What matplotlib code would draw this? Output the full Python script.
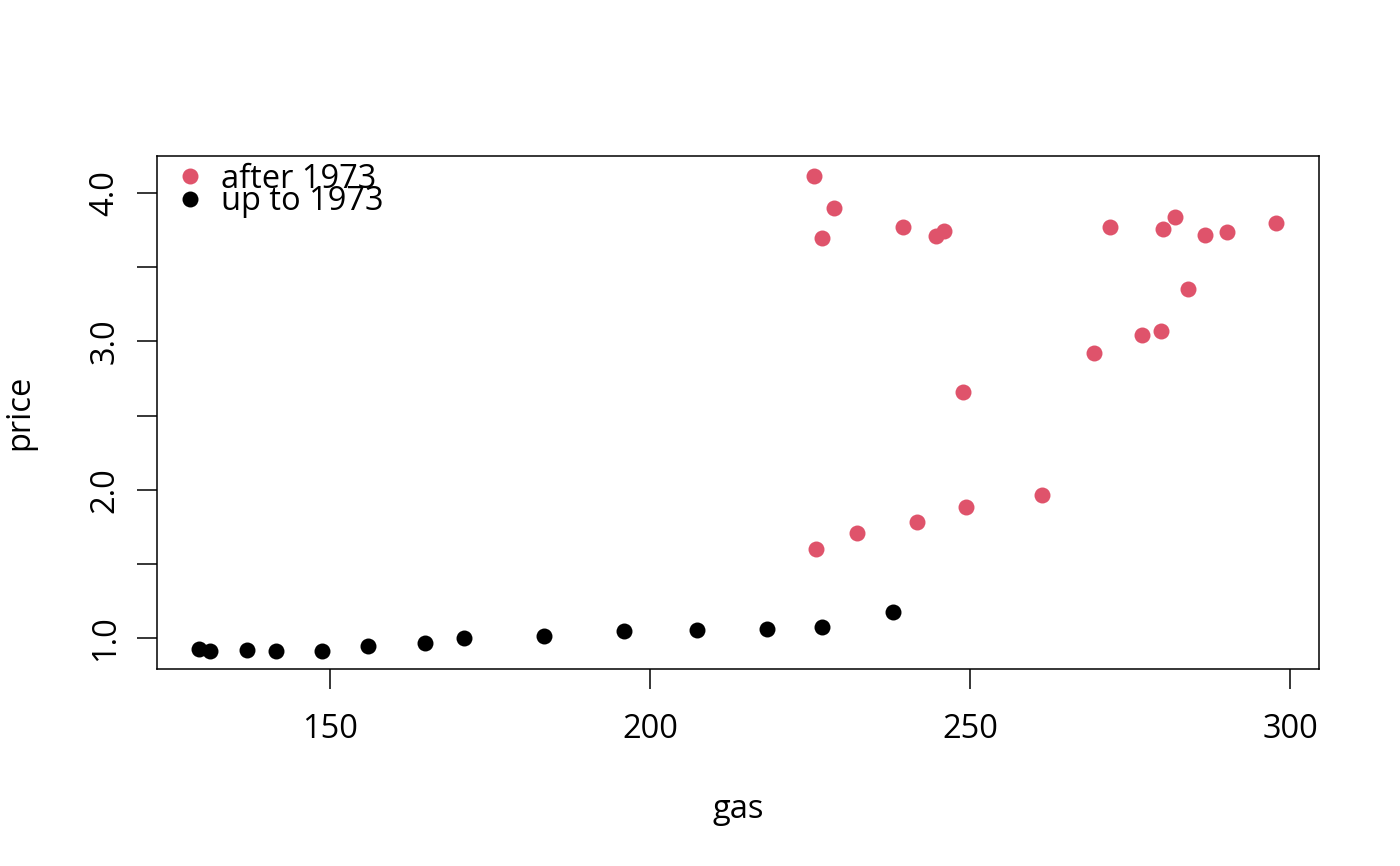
import matplotlib
matplotlib.use("Agg")
import matplotlib.pyplot as plt
from matplotlib.lines import Line2D

plt.rcParams['font.family'] = ['Open Sans', 'DejaVu Sans']

# up to 1973
gas_early = [129.6, 131.3, 137.1, 141.6, 148.8, 155.9, 164.9, 171.0, 183.4,
             195.9, 207.4, 218.3, 226.8, 238.0]
price_early = [0.928, 0.914, 0.921, 0.917, 0.914, 0.948, 0.970, 1.000, 1.013,
               1.047, 1.056, 1.063, 1.076, 1.180]

# after 1973
gas_late = [225.9, 232.4, 241.7, 249.3, 261.3, 248.9, 269.4, 276.8, 279.9, 284.1,
            225.6, 228.8, 226.8, 239.6, 244.7, 245.9, 271.8, 280.2, 282.0, 286.7,
            290.2, 297.8]
price_late = [1.600, 1.710, 1.782, 1.883, 1.964, 2.658, 2.925, 3.042, 3.069, 3.356,
              4.113, 3.898, 3.695, 3.770, 3.711, 3.745, 3.772, 3.756, 3.839, 3.718,
              3.738, 3.797]

xticks = [150, 200, 250, 300]
yticks = [1.0, 1.5, 2.0, 2.5, 3.0, 3.5, 4.0]
ylabels = ["1.0", "", "2.0", "", "3.0", "", "4.0"]

RED = "#DF536B"
FS = 23.5

fig = plt.figure(figsize=(14, 8.66), dpi=100)
ax = fig.add_axes([157/1400, 1-669/866, (1319-157)/1400, (669-156)/866])

ax.plot(gas_late, price_late, 'o', color=RED, markersize=11.5, markeredgewidth=0)
ax.plot(gas_early, price_early, 'o', color='black', markersize=11.5, markeredgewidth=0)

ax.set_xlim(122.97, 304.53)
ax.set_ylim(0.793, 4.250)
ax.set_xticks(xticks)
ax.set_xticklabels([str(t) for t in xticks], fontsize=FS)
ax.set_yticks(yticks)
ax.set_yticklabels(ylabels, fontsize=FS, rotation=90, va='center')
ax.tick_params(axis='both', length=14.5, width=1.1, color='black')
ax.tick_params(axis='x', pad=17)
ax.tick_params(axis='y', pad=11)
for s in ax.spines.values():
    s.set_linewidth(1.1)

ax.set_xlabel("gas", fontsize=FS, labelpad=34)
ax.set_ylabel("price", fontsize=FS, labelpad=38)

handles = [Line2D([], [], marker='o', linestyle='', color=RED, markersize=11.5, markeredgewidth=0),
           Line2D([], [], marker='o', linestyle='', color='black', markersize=11.5, markeredgewidth=0)]
ax.legend(handles, ["after 1973", "up to 1973"], loc='upper left', frameon=False,
          fontsize=FS, labelspacing=-0.32, handletextpad=0.43, handlelength=1.0,
          borderaxespad=0.0, bbox_to_anchor=(0.0034, 1.012))

fig.savefig("out.png", dpi=100)
